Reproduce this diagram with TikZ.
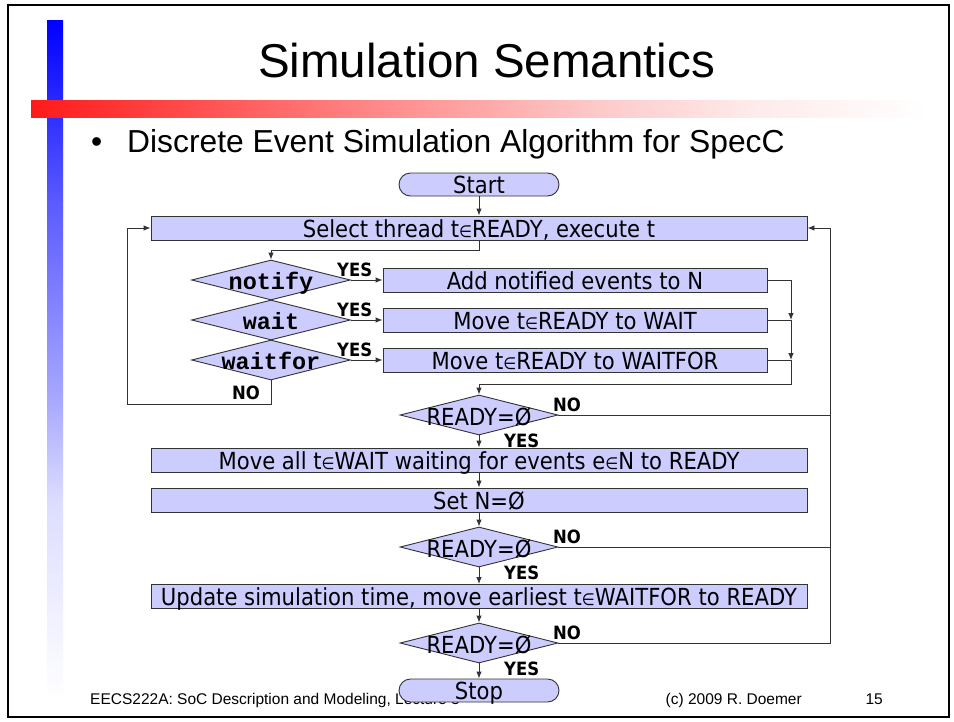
\documentclass[tikz,border=0pt]{standalone}
\usepackage{fontspec}
\setmainfont{Liberation Sans}
\newfontfamily\tah[FakeStretch=0.9]{DejaVu Sans}
\newfontfamily\cour{Liberation Mono}
\usetikzlibrary{shapes.geometric,arrows.meta}
\newcommand\inel{{\fontsize{16.5}{16.5}\selectfont ∈}}
\definecolor{lav}{HTML}{CCCCFF}
\definecolor{edge}{HTML}{333333}
\definecolor{bA}{HTML}{0000FF}
\definecolor{bB}{HTML}{5A5AFF}
\definecolor{bC}{HTML}{A8A8FF}
\definecolor{bD}{HTML}{DCDCFF}
\definecolor{rA}{HTML}{FF1A1A}
\definecolor{rB}{HTML}{FF5050}
\definecolor{rC}{HTML}{FF9090}
\definecolor{rD}{HTML}{FDCACA}
\definecolor{rE}{HTML}{FEEAEA}
\begin{document}
\begin{tikzpicture}[x=1pt,y=-1pt,
  box/.style={draw=edge, fill=lav, line width=0.9pt, inner sep=0pt, minimum height=24pt,
    text height=18pt, text depth=0pt, font=\tah\fontsize{23.5}{26}\selectfont},
  wide/.style={box, minimum width=656pt},
  side/.style={box, minimum width=384pt},
  term/.style={box, rounded corners=11.5pt, minimum width=160pt, minimum height=23pt},
  dia/.style={diamond, draw=edge, fill=lav, line width=0.9pt, inner sep=0pt,
    minimum width=159pt, minimum height=40pt},
  dtext/.style={inner sep=0pt, text height=20pt, text depth=0pt, font=\tah\fontsize{23.5}{26}\selectfont},
  ctext/.style={inner sep=0pt, text height=18pt, text depth=0pt, font=\cour\bfseries\fontsize{23.5}{26}\selectfont},
  lab/.style={inner sep=0pt, anchor=base west, font=\tah\bfseries\fontsize{18.3}{20}\selectfont},
  line/.style={draw=edge, line width=0.9pt},
  arr/.style={line, -{Latex[length=7pt,width=5.5pt]}}
]
\useasboundingbox (0,0) rectangle (954,721);
\fill[white] (0,0) rectangle (954,721);
% decoration bars
\shade[top color=bA, bottom color=bB] (47,20) rectangle (63,200.5);
\shade[top color=bB, bottom color=bC] (47,200) rectangle (63,400.5);
\shade[top color=bC, bottom color=bD] (47,400) rectangle (63,500.5);
\shade[top color=bD, bottom color=white] (47,500) rectangle (63,700);
\shade[left color=rA, right color=rB] (31,100) rectangle (200.5,117);
\shade[left color=rB, right color=rC] (200,100) rectangle (400.5,117);
\shade[left color=rC, right color=rD] (400,100) rectangle (600.5,117);
\shade[left color=rD, right color=rE] (600,100) rectangle (750.5,117);
\shade[left color=rE, right color=white] (750,100) rectangle (928,117);
\draw[line width=2pt] (8,5) rectangle (949,717);
% title and bullet
\node[inner sep=0pt, anchor=base west, font=\fontsize{47.5}{50}\selectfont] (title) at (258,77) {Simulation Semantics};
\node[inner sep=0pt, anchor=base west, font=\fontsize{31.8}{34}\selectfont] (bul) at (91,152) {•};
\node[inner sep=0pt, anchor=base west, font=\fontsize{31.8}{34}\selectfont] (bullet) at (127,152) {Discrete Event Simulation Algorithm for SpecC};
% footer
\node[inner sep=0pt, anchor=base west, font=\fontsize{15.5}{17}\selectfont] (fl) at (90,704) {EECS222A: SoC Description and Modeling, Lecture 3};
\node[inner sep=0pt, anchor=base east, font=\fontsize{15.5}{17}\selectfont] (fr) at (802,704) {(c) 2009 R. Doemer};
\node[inner sep=0pt, anchor=base east, font=\fontsize{15.5}{17}\selectfont] (fp) at (883,704) {15};
% nodes
\node[term] (start) at (479,184.5) {Start};
\node[wide] (sel) at (479,228) {Select thread t\inel READY, execute t};
\node[dia] (nt) at (271,280) {};
\node[ctext] (ntt) at (nt.center) {notify};
\node[dia] (wt) at (271,320) {};
\node[ctext] (wtt) at (wt.center) {wait};
\node[dia] (wf) at (271,360) {};
\node[ctext] (wft) at (wf.center) {waitfor};
\node[side] (nb) at (575,280) {Add notified events to N};
\node[side] (wb) at (575,320) {Move t\inel READY to WAIT};
\node[side] (wfb) at (575,360) {Move t\inel READY to WAITFOR};
\node[dia, minimum width=158pt] (d1) at (479,415) {};
\node[dtext] (d1t) at (d1.center) {READY=Ø};
\node[wide] (mv) at (479,460) {Move all t\inel WAIT waiting for events e\inel N to READY};
\node[wide] (setn) at (479,500) {Set N=Ø};
\node[dia, minimum width=158pt] (d2) at (479,547) {};
\node[dtext] (d2t) at (d2.center) {READY=Ø};
\node[wide] (up) at (479,596.5) {Update simulation time, move earliest t\inel WAITFOR to READY};
\node[dia, minimum width=158pt] (d3) at (479,643) {};
\node[dtext] (d3t) at (d3.center) {READY=Ø};
\node[term] (stop) at (479,690.5) {Stop};
% labels
\node[lab] (y1) at (337,276) {YES};
\node[lab] (y2) at (337,316) {YES};
\node[lab] (y3) at (337,356) {YES};
\node[lab] (n0) at (232,399) {NO};
\node[lab] (n1) at (553,411) {NO};
\node[lab] (y4) at (504,447) {YES};
\node[lab] (n2) at (553,543) {NO};
\node[lab] (y5) at (504,579) {YES};
\node[lab] (n3) at (553,639) {NO};
\node[lab] (y6) at (504,675) {YES};
% coordinates
\coordinate (j1) at (479,250);
\coordinate (j2) at (271,250);
\coordinate (m1) at (791,280);
\coordinate (m2) at (791,320);
\coordinate (m3) at (791,360);
\coordinate (m4) at (791,384);
\coordinate (m5) at (479,384);
\coordinate (l1) at (271,404);
\coordinate (l2) at (127,404);
\coordinate (l3) at (127,228);
\coordinate (r1) at (830,415);
\coordinate (r2) at (830,547);
\coordinate (r3) at (830,643);
\coordinate (r4) at (830,228);
% connectors
\draw[arr] (start) -- (sel);
\draw[arr] (sel.south) -- (j1) -- (j2) -- (nt.north);
\draw[arr] (nt.east) -- (nb.west);
\draw[arr] (wt.east) -- (wb.west);
\draw[arr] (wf.east) -- (wfb.west);
\draw[arr] (nb.east) -- (m1) -- (m2);
\draw[line] (wb.east) -- (m2);
\draw[arr] (m2) -- (m3);
\draw[line] (wfb.east) -- (m3);
\draw[arr] (m3) -- (m4) -- (m5) -- (d1.north);
\draw[arr] (wf.south) -- (l1) -- (l2) -- (l3) -- (sel.west);
\draw[arr] (d1.south) -- (mv.north);
\draw[arr] (mv.south) -- (setn.north);
\draw[arr] (setn.south) -- (d2.north);
\draw[arr] (d2.south) -- (up.north);
\draw[arr] (up.south) -- (d3.north);
\draw[arr] (d3.south) -- (stop.north);
\draw[line] (d1.east) -- (r1);
\draw[line] (d2.east) -- (r2);
\draw[arr] (d3.east) -- (r3) -- (r4) -- (sel.east);
\end{tikzpicture}
\end{document}
